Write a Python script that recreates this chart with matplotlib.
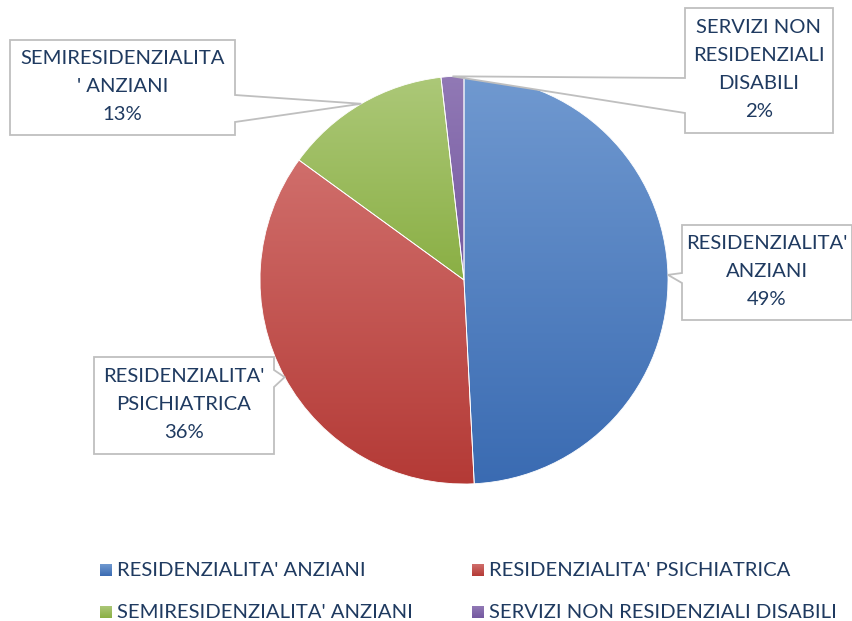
import numpy as np
import matplotlib
matplotlib.use("Agg")
import matplotlib.pyplot as plt
from matplotlib.patches import Polygon
from matplotlib.colors import LinearSegmentedColormap

categories = ["RESIDENZIALITA' ANZIANI", "RESIDENZIALITA' PSICHIATRICA",
              "SEMIRESIDENZIALITA' ANZIANI", "SERVIZI NON RESIDENZIALI DISABILI"]
values = [49.2, 35.8, 13.2, 1.8]
label_texts = ["RESIDENZIALITA'\nANZIANI", "RESIDENZIALITA'\nPSICHIATRICA",
               "SEMIRESIDENZIALITA\n' ANZIANI", "SERVIZI NON\nRESIDENZIALI\nDISABILI"]
top_colors = ["#7099D0", "#D06E6B", "#ACC878", "#9179B5"]
bot_colors = ["#3A6BB2", "#B43A36", "#8AAF44", "#7458A0"]

W, H = 853, 621
FONT = "Lato"
TXT = "#1F3A60"
FS = 14.6
fig = plt.figure(figsize=(W / 100, H / 100), dpi=100)
ax = fig.add_axes([0, 0, 1, 1])

cx, cy, R = 464, H - 280, 204
wedges, _ = ax.pie(values, startangle=90, counterclock=False, radius=R,
                   center=(cx, cy), frame=True,
                   wedgeprops=dict(edgecolor="white", linewidth=0.6))
ax.set_xlim(0, W)
ax.set_ylim(0, H)
ax.axis("off")

grad = np.linspace(0, 1, 256).reshape(-1, 1)
for w, tc, bc in zip(wedges, top_colors, bot_colors):
    cmap = LinearSegmentedColormap.from_list("g", [bc, tc])
    bb = w.get_path().get_extents(w.get_patch_transform())
    ext = [bb.x0, bb.x1, bb.y0, bb.y1]
    im = ax.imshow(grad, cmap=cmap, extent=ext, origin="lower",
                   aspect="auto", zorder=1)
    im.set_clip_path(w)
    w.set_facecolor("none")
    w.set_zorder(2)

# callout boxes: (x0, y_top, x1, y_bottom) in pixels from top, side of tail
boxes = [
    (682, 225, 852, 320, "left"),
    (94, 357, 274, 454, "right"),
    (10, 40, 235, 135, "right"),
    (685, 8, 833, 133, "left"),
]
tail_spans = [(273, 283), (370, 387), (95, 122), (78, 113)]

cum = np.cumsum([0] + values)
tot = sum(values)
for i, (box, span) in enumerate(zip(boxes, tail_spans)):
    mid = (cum[i] + cum[i + 1]) / 2 / tot
    ang = np.deg2rad(90 - 360 * mid)
    tx, ty = cx + R * np.cos(ang), cy + R * np.sin(ang)
    x0, yt, x1, yb, side = box
    Yt, Yb = H - yt, H - yb
    s0, s1 = H - span[0], H - span[1]
    if side == "left":
        pts = [(x0, Yt), (x1, Yt), (x1, Yb), (x0, Yb), (x0, s1), (tx, ty), (x0, s0)]
    else:
        pts = [(x0, Yt), (x1, Yt), (x1, s0), (tx, ty), (x1, s1), (x1, Yb), (x0, Yb)]
    ax.add_patch(Polygon(pts, closed=True, facecolor="white", edgecolor="#BFBFBF",
                         linewidth=1.3, zorder=3))
    pct = f"{round(values[i] / tot * 100):.0f}%"
    ax.text((x0 + x1) / 2, (Yt + Yb) / 2 + 1, label_texts[i] + "\n" + pct,
            ha="center", va="center", color=TXT, fontsize=FS, family=FONT,
            linespacing=1.78, zorder=4)

# legend
leg_pos = [(100, 570), (472, 570), (100, 612), (472, 612)]
for (lx, ly), cat, tc, bc in zip(leg_pos, categories, top_colors, bot_colors):
    cmap = LinearSegmentedColormap.from_list("g", [bc, tc])
    ax.imshow(grad, cmap=cmap, extent=[lx, lx + 12, H - ly - 6, H - ly + 6],
              origin="lower", aspect="auto", zorder=3)
    ax.text(lx + 17, H - ly, cat, ha="left", va="center", color=TXT,
            fontsize=FS, family=FONT, zorder=4)

ax.set_xlim(0, W)
ax.set_ylim(0, H)
fig.savefig("out.png", dpi=100)
